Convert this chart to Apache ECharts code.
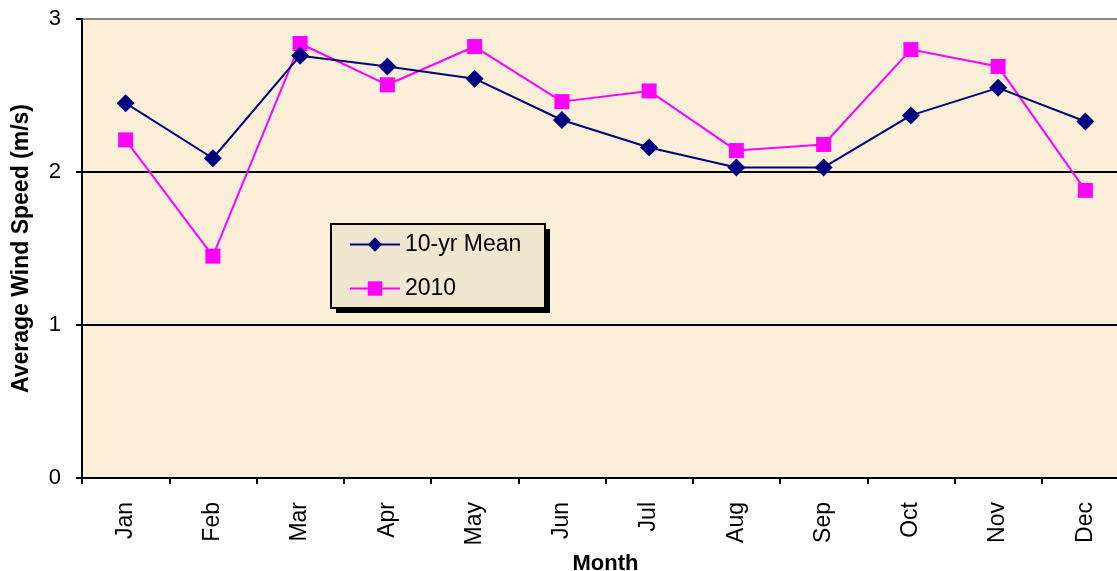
<!DOCTYPE html>
<html>
<head>
<meta charset="utf-8">
<script src="https://cdn.jsdelivr.net/npm/echarts@6/dist/echarts.min.js"></script>
<style>
  html, body { margin: 0; padding: 0; background: #fff; }
  #chart { width: 1117px; height: 571px; }
</style>
</head>
<body>
<div id="chart"></div>
<script>
// data
const months = ['Jan', 'Feb', 'Mar', 'Apr', 'May', 'Jun', 'Jul', 'Aug', 'Sep', 'Oct', 'Nov', 'Dec']
const tenYrMean = [2.45, 2.09, 2.76, 2.69, 2.61, 2.34, 2.16, 2.03, 2.03, 2.37, 2.55, 2.33]
const year2010 = [2.21, 1.45, 2.84, 2.57, 2.82, 2.46, 2.53, 2.14, 2.18, 2.80, 2.69, 1.88]
const yTicks = [0, 1, 2, 3]

const font = 'Liberation Sans, Arial, sans-serif'
let myChart = echarts.init(document.getElementById('chart'))

myChart.setOption({
  animation: false,
  backgroundColor: '#ffffff',
  grid: {
    left: 82,
    top: 19,
    right: -12,
    bottom: 93,
    containLabel: false,
    outerBoundsMode: 'none',
    show: true,
    backgroundColor: '#fbefd8',
    borderColor: '#8a8a8a',
    borderWidth: 2
  },
  // legend box with its hard drop shadow
  graphic: [
    {
      type: 'rect',
      left: 336,
      top: 229,
      z: 3,
      shape: { width: 214, height: 84 },
      style: { fill: '#000' }
    },
    {
      type: 'rect',
      left: 330,
      top: 223,
      z: 3,
      shape: { width: 214, height: 84 },
      style: { fill: '#f1e6d0', stroke: '#000', lineWidth: 2 }
    }
  ],
  legend: {
    orient: 'vertical',
    left: 330,
    top: 223,
    padding: [10, 20, 8, 19],
    itemGap: 21,
    itemWidth: 50,
    itemHeight: 18,
    z: 5,
    textStyle: { fontFamily: font, fontSize: 23, color: '#000' },
    data: ['10-yr Mean', '2010']
  },
  xAxis: {
    type: 'category',
    data: months,
    boundaryGap: true,
    name: 'Month',
    nameLocation: 'middle',
    nameGap: 71,
    nameTextStyle: { fontFamily: font, fontSize: 22, fontWeight: 'bold', color: '#000' },
    axisLine: { show: true, lineStyle: { color: '#000', width: 2 } },
    axisTick: { show: true, length: 6, lineStyle: { color: '#000', width: 2 } },
    axisLabel: {
      rotate: 90,
      margin: 24,
      fontFamily: font,
      fontSize: 23,
      color: '#000'
    },
    splitLine: { show: false }
  },
  yAxis: {
    type: 'value',
    min: yTicks[0],
    max: yTicks[yTicks.length - 1],
    interval: 1,
    name: 'Average Wind Speed (m/s)',
    nameLocation: 'middle',
    nameGap: 49,
    nameTextStyle: { fontFamily: font, fontSize: 23, fontWeight: 'bold', color: '#000' },
    axisLine: { show: true, lineStyle: { color: '#000', width: 2 } },
    axisTick: { show: true, length: 6, lineStyle: { color: '#000', width: 2 } },
    axisLabel: {
      margin: 21,
      fontFamily: font,
      fontSize: 22,
      color: '#000'
    },
    splitLine: {
      show: true,
      lineStyle: { color: ['#000', '#000', '#000', '#8a8a8a'], width: 2 }
    }
  },
  series: [
    {
      name: '10-yr Mean',
      type: 'line',
      data: tenYrMean,
      symbol: 'diamond',
      symbolSize: 18,
      lineStyle: { color: '#000080', width: 2 },
      itemStyle: { color: '#000080' },
      z: 3
    },
    {
      name: '2010',
      type: 'line',
      data: year2010,
      symbol: 'rect',
      symbolSize: 15,
      lineStyle: { color: '#ff00ff', width: 2 },
      itemStyle: { color: '#ff00ff' },
      z: 2
    }
  ]
})
</script>
</body>
</html>
